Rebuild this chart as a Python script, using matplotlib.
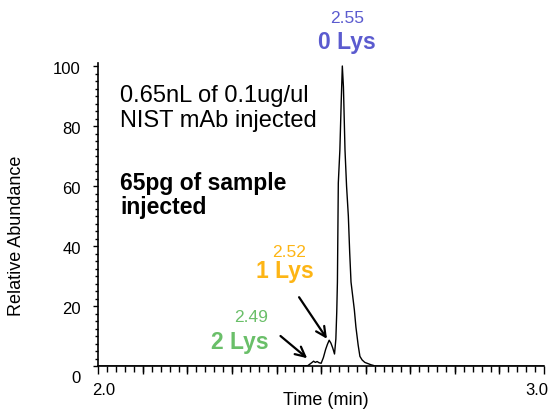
import matplotlib
matplotlib.use("Agg")
import matplotlib.pyplot as plt
import matplotlib.transforms as mtransforms
from matplotlib.ticker import MultipleLocator, FixedLocator

plt.rcParams['font.family'] = ['Liberation Sans', 'DejaVu Sans']

# ---- data ----
time_min = [2.00, 2.10, 2.20, 2.30, 2.40, 2.470, 2.478, 2.483, 2.487, 2.491,
            2.495, 2.500, 2.505, 2.510, 2.514, 2.518, 2.522, 2.526, 2.530, 2.533,
            2.535, 2.5365, 2.5385, 2.542, 2.545, 2.5475, 2.550, 2.5535, 2.557, 2.561,
            2.564, 2.567, 2.5745, 2.578, 2.583, 2.587, 2.592, 2.598, 2.605, 2.612,
            2.617, 2.620, 2.70, 2.80, 2.90, 3.00]
abundance = [0, 0, 0, 0, 0, 0.1, 1.0, 1.6, 1.2, 1.5,
             1.1, 0.9, 2.8, 5.5, 7.2, 8.6, 7.6, 6.0, 4.0, 9.0,
             18, 28, 61, 72, 88, 100, 93, 72, 60, 50,
             38, 28, 18.7, 13, 7, 3.2, 2.0, 1.2, 0.8, 0.4,
             0.2, 0, 0, 0, 0, 0]

peak_times = [2.55, 2.52, 2.49]
peak_labels = ['0 Lys', '1 Lys', '2 Lys']
peak_colors = ['#5b5bcf', '#fdb515', '#6abf69']

y_ticks = [0, 20, 40, 60, 80, 100]
x_ticks = [2.0, 3.0]
x_tick_labels = ['2.0', '3.0']
x_mid_ticks = [2.1, 2.2, 2.3, 2.4, 2.5, 2.6, 2.7, 2.8, 2.9]

W, H = 552, 409
fig = plt.figure(figsize=(W / 100, H / 100), dpi=100)
ax = fig.add_axes([98.3 / W, 1 - 366 / H, (544 - 98.3) / W, (366 - 63) / H])

ax.plot(time_min, abundance, color='black', lw=1.0)
ax.set_xlim(2.0, 3.0)
ax.set_ylim(0, 101)

for s in ['top', 'right']:
    ax.spines[s].set_visible(False)
for s in ['left', 'bottom']:
    ax.spines[s].set_linewidth(1.2)

ax.set_xticks(x_ticks)
ax.set_xticklabels(x_tick_labels)
ax.xaxis.set_minor_locator(MultipleLocator(0.02))
ax.set_yticks(y_ticks)
ax.set_yticklabels([str(v) for v in y_ticks])
ax.yaxis.set_minor_locator(MultipleLocator(2.5))

ax.tick_params(axis='x', which='major', length=6, width=1, pad=6, labelsize=12)
ax.tick_params(axis='x', which='minor', length=4.5, width=1)
ax.tick_params(axis='y', which='major', length=3.5, width=1, pad=9, labelsize=12)
ax.tick_params(axis='y', which='minor', length=2.2, width=1)

# longer ticks at each 0.1 step
sec = ax.secondary_xaxis('bottom')
sec.xaxis.set_major_locator(FixedLocator(x_mid_ticks))
sec.xaxis.set_ticklabels([])
sec.tick_params(length=6, width=1)
sec.spines['bottom'].set_visible(False)

# label offsets
dpi_scale = fig.dpi_scale_trans
for lab, dx in zip(ax.get_xticklabels(), [5, -7]):
    lab.set_transform(lab.get_transform() + mtransforms.ScaledTranslation(dx / 100, 0, dpi_scale))
for lab, v in zip(ax.get_yticklabels(), y_ticks):
    dy = -11 if v == 0 else -2.5
    lab.set_transform(lab.get_transform() + mtransforms.ScaledTranslation(0, dy / 100, dpi_scale))

ax.set_xlabel('Time (min)', fontsize=13)
ax.xaxis.set_label_coords(0.51, -0.085)
ax.set_ylabel('Relative Abundance', fontsize=13)
ax.yaxis.set_label_coords(-0.165, 0.43)

# peak annotations (value label above, name below)
num_pos = [(2.559, 115.7), (2.427, 37.7), (2.343, 16.0)]
name_pos = [(2.558, 107.7), (2.419, 31.4), (2.318, 8.0)]
for t, lab, c, npos, lpos in zip(peak_times, peak_labels, peak_colors, num_pos, name_pos):
    ax.text(npos[0], npos[1], f'{t:.2f}', color=c, fontsize=12.5,
            ha='center', va='center', clip_on=False)
    ax.text(lpos[0], lpos[1], lab, color=c, fontsize=16.5, fontweight='bold',
            ha='center', va='center', clip_on=False)

# arrows
ax.annotate('', xy=(2.5165, 8.3), xytext=(2.447, 23.7),
            arrowprops=dict(arrowstyle='->,head_length=0.7,head_width=0.35', color='black', lw=1.6))
ax.annotate('', xy=(2.4734, 2.0), xytext=(2.404, 10.6),
            arrowprops=dict(arrowstyle='->,head_length=0.7,head_width=0.35', color='black', lw=1.6))

# info text
fig.text(120 / W, 1 - 101.7 / H, '0.65nL of 0.1ug/ul', fontsize=17, va='baseline', ha='left')
fig.text(120 / W, 1 - 126.7 / H, 'NIST mAb injected', fontsize=17, va='baseline', ha='left')
fig.text(120 / W, 1 - 190 / H, '65pg of sample', fontsize=16.5, fontweight='bold', va='baseline', ha='left')
fig.text(120 / W, 1 - 214 / H, 'injected', fontsize=16.5, fontweight='bold', va='baseline', ha='left')

fig.savefig('out.png', dpi=100)
